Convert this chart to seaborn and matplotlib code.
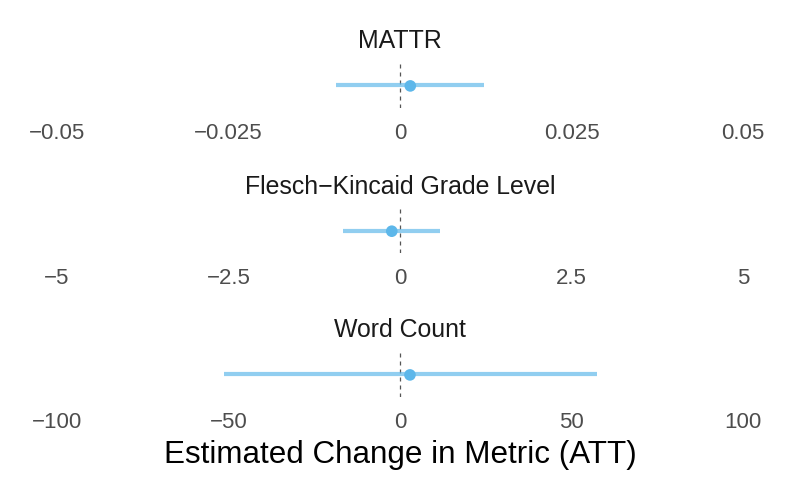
import matplotlib
matplotlib.use("Agg")
import matplotlib.pyplot as plt
import seaborn as sns
import pandas as pd

metrics = ["MATTR", "Flesch\u2212Kincaid Grade Level", "Word Count"]
estimates = [0.0015, -0.12, 2.9]
ci_low = [-0.0093, -0.83, -51.3]
ci_high = [0.0123, 0.59, 57.3]
tick_values = [[-0.05, -0.025, 0, 0.025, 0.05],
               [-5, -2.5, 0, 2.5, 5],
               [-100, -50, 0, 50, 100]]
tick_labels = [["\u22120.05", "\u22120.025", "0", "0.025", "0.05"],
               ["\u22125", "\u22122.5", "0", "2.5", "5"],
               ["\u2212100", "\u221250", "0", "50", "100"]]
xlabel = "Estimated Change in Metric (ATT)"

sns.set_theme(style="white")
plt.rcParams["font.family"] = ["Liberation Sans", "DejaVu Sans"]

W, H = 793, 486
fig = plt.figure(figsize=(W / 100, H / 100), dpi=100)

point_color = "#5DB7EA"
line_color = "#56B4E9"

tops = [62.7, 208.0, 351.7]
ax_h = 45.5
left_px, right_px = 57, 743

df = pd.DataFrame({"metric": metrics, "est": estimates, "lo": ci_low, "hi": ci_high})

for i, row in df.iterrows():
    top = tops[i]
    ax = fig.add_axes([left_px / W, 1 - (top + ax_h) / H, (right_px - left_px) / W, ax_h / H])
    ax.set_xlim(tick_values[i][0], tick_values[i][-1])
    ax.set_ylim(-1, 1)
    ax.axvline(0, color="#555555", lw=0.9, dashes=(3.2, 3.2), zorder=1)
    ax.hlines(0, row["lo"], row["hi"], color=line_color, alpha=0.65, lw=3.0, zorder=2)
    sns.scatterplot(x=[row["est"]], y=[-0.02], ax=ax, s=70, color=point_color,
                    edgecolor="none", zorder=3, legend=False)
    ax.set_xticks(tick_values[i])
    ax.set_xticklabels(tick_labels[i])
    ax.set_yticks([])
    ax.set_xlabel("")
    ax.set_ylabel("")
    ax.tick_params(axis="x", length=0, pad=10.5, labelsize=16, labelcolor="#4D4D4D")
    for s in ax.spines.values():
        s.set_visible(False)
    ax.patch.set_alpha(0)
    fig.text(400 / W, 1 - (top - 21.5) / H, row["metric"], ha="center", va="center",
             fontsize=17.9, color="#1A1A1A")

fig.text(400 / W, 1 - 455 / H, xlabel, ha="center", va="center", fontsize=22.6, color="black")

fig.savefig("out.png", dpi=100, facecolor="white")
